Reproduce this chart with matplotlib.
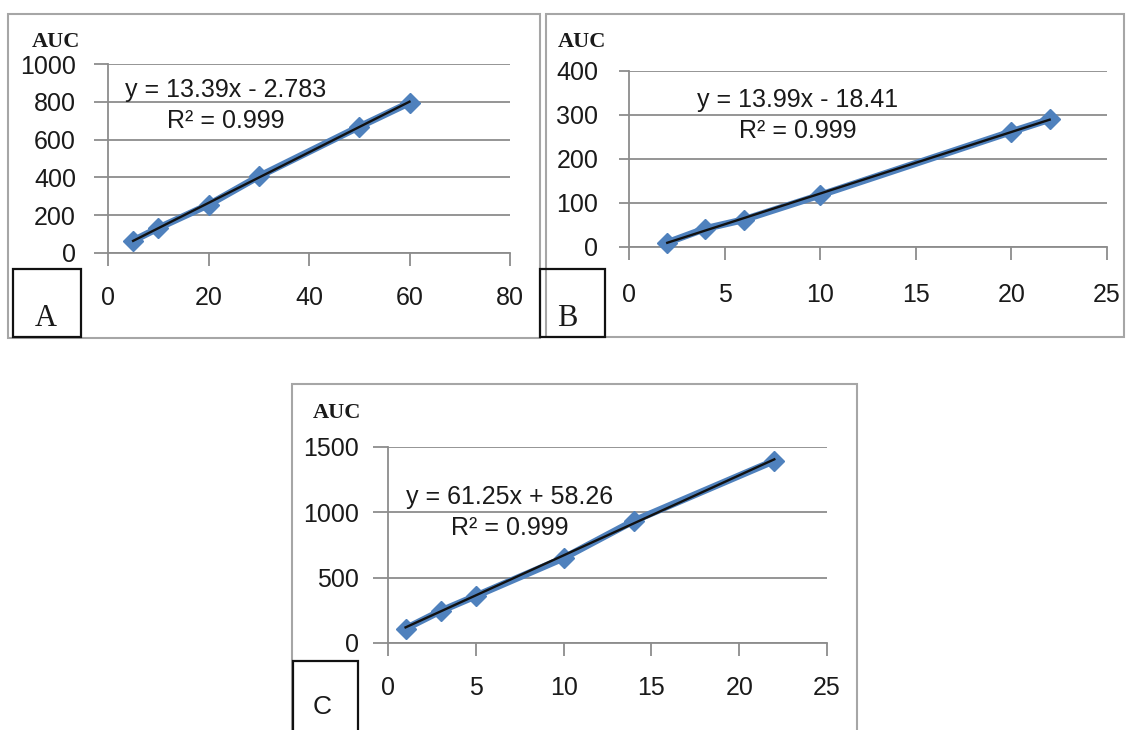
import numpy as np
import matplotlib
matplotlib.use("Agg")
import matplotlib.pyplot as plt
from matplotlib.patches import Rectangle

# ---------------- data ----------------
a_x = [5, 10, 20, 30, 50, 60]
a_y = [65, 132, 255, 405, 668, 795]
a_slope, a_icpt = 13.39, -2.783
a_eq = "y = 13.39x - 2.783"
a_r2 = "R\u00b2 = 0.999"
a_xticks = [0, 20, 40, 60, 80]
a_yticks = [0, 200, 400, 600, 800, 1000]

b_x = [2, 4, 6, 10, 20, 22]
b_y = [10, 42, 62, 118, 262, 290]
b_slope, b_icpt = 13.99, -18.41
b_eq = "y = 13.99x - 18.41"
b_r2 = "R\u00b2 = 0.999"
b_xticks = [0, 5, 10, 15, 20, 25]
b_yticks = [0, 100, 200, 300, 400]

c_x = [1, 3, 5, 10, 14, 22]
c_y = [110, 245, 360, 650, 935, 1395]
c_slope, c_icpt = 61.25, 58.26
c_eq = "y = 61.25x + 58.26"
c_r2 = "R\u00b2 = 0.999"
c_xticks = [0, 5, 10, 15, 20, 25]
c_yticks = [0, 500, 1000, 1500]

panel_letters = ["A", "B", "C"]
ylabel_text = "AUC"

# ---------------- layout helpers ----------------
W, H = 1126, 730
fig = plt.figure(figsize=(W / 100, H / 100), dpi=100)
fig.patch.set_facecolor("white")

BLUE = "#4F81BD"
GRID = "#8c8c8c"
SANS = "Liberation Sans"
SERIF = "Liberation Serif"
TXT = "#1a1a1a"
FS = 18


def rect(l, t, r, b, color, lw):
    fig.patches.append(Rectangle((l / W, 1 - b / H), (r - l) / W, (b - t) / H,
                                 transform=fig.transFigure, fill=False,
                                 edgecolor=color, linewidth=lw, zorder=0))


def ftext(x, y, s, **kw):
    fig.text(x / W, 1 - y / H, s, **kw)


def panel(box, xs, ys, slope, icpt, xticks, yticks, ylen, ypad, xpad):
    l, t, r, b = box
    ax = fig.add_axes([l / W, 1 - b / H, (r - l) / W, (b - t) / H])
    ax.set_facecolor("none")
    ax.set_xlim(xticks[0], xticks[-1])
    ax.set_ylim(yticks[0], yticks[-1])
    ax.set_xticks(xticks)
    ax.set_yticks(yticks)
    for s in ["top", "right"]:
        ax.spines[s].set_visible(False)
    for s in ["left", "bottom"]:
        ax.spines[s].set_color(GRID)
        ax.spines[s].set_linewidth(1.3)
    ax.grid(axis="y", color=GRID, linewidth=1.3)
    ax.set_axisbelow(True)
    ax.tick_params(axis="y", direction="out", length=ylen, width=1.3,
                   color=GRID, pad=ypad, labelsize=FS)
    ax.tick_params(axis="x", direction="out", length=9, width=1.3,
                   color=GRID, pad=xpad, labelsize=FS)
    for lab in ax.get_xticklabels() + ax.get_yticklabels():
        lab.set_fontfamily(SANS)
        lab.set_color(TXT)
    ax.plot(xs, ys, color=BLUE, linewidth=5, marker="D", markersize=10,
            markerfacecolor=BLUE, markeredgecolor=BLUE, zorder=3, clip_on=False)
    tx = np.array([min(xs), max(xs)], dtype=float)
    ax.plot(tx, slope * tx + icpt, color="#111111", linewidth=1.7, zorder=4,
            clip_on=False)
    return ax


# outer frames
rect(8, 14, 540, 338, "#a6a6a6", 1.5)
rect(546, 14, 1124, 337, "#a6a6a6", 1.5)
rect(292, 384, 857, 736, "#a6a6a6", 1.5)

# panels
panel((108, 64, 510, 253), a_x, a_y, a_slope, a_icpt, a_xticks, a_yticks,
      10, 13, 15)
panel((629, 71, 1107, 247), b_x, b_y, b_slope, b_icpt, b_xticks, b_yticks,
      7, 15, 17)
panel((388, 447, 827, 643), c_x, c_y, c_slope, c_icpt, c_xticks, c_yticks,
      11, 10, 15)

# equation labels
for (ex, ey, ry, eq, r2) in [(226, 90, 121, a_eq, a_r2),
                             (798, 100, 131, b_eq, b_r2),
                             (510, 497, 528, c_eq, c_r2)]:
    ftext(ex, ey, eq, ha="center", va="center", fontsize=FS,
          family=SANS, color=TXT)
    ftext(ex, ry, r2, ha="center", va="center", fontsize=FS,
          family=SANS, color=TXT)

# AUC labels
for (x, y) in [(56, 42), (582, 42), (337, 413)]:
    ftext(x, y, ylabel_text, ha="center", va="center", fontsize=16,
          family=SERIF, fontweight="bold", color=TXT)

# panel letter boxes
rect(13, 269, 81, 337, "#111111", 1.6)
rect(540, 269, 605, 337, "#111111", 1.6)
rect(293, 661, 358, 740, "#111111", 1.6)
ftext(46, 318, panel_letters[0], ha="center", va="center", fontsize=22,
      family=SERIF, color=TXT)
ftext(567, 318, panel_letters[1], ha="center", va="center", fontsize=22,
      family=SERIF, color=TXT)
ftext(322, 707, panel_letters[2], ha="center", va="center", fontsize=19,
      family=SANS, color=TXT)

fig.savefig("out.png", dpi=100)
